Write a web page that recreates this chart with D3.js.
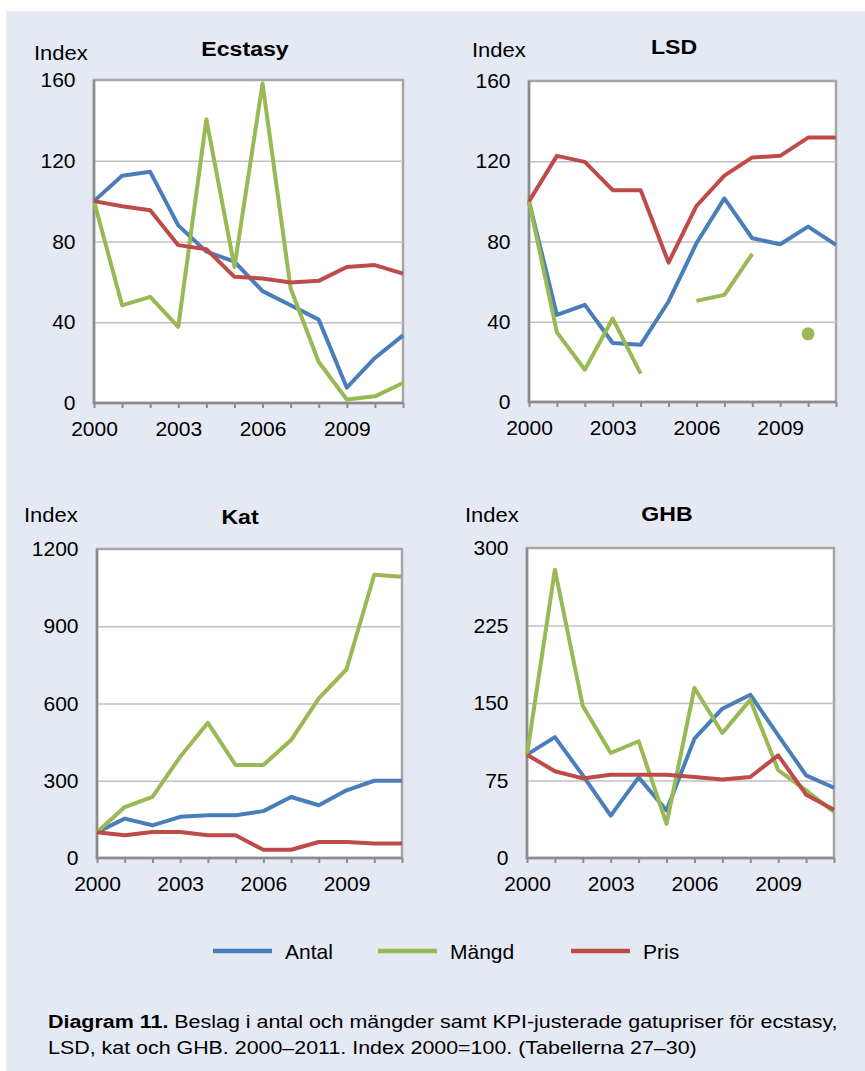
<!DOCTYPE html>
<html>
<head>
<meta charset="utf-8">
<script src="https://cdn.jsdelivr.net/npm/d3@7"></script>
<style>
  body { margin: 0; background: #fff; }
  text { font-family: Arial, "Liberation Sans", sans-serif; fill: #000; }
</style>
</head>
<body>
<div class="chart"></div>
<script>
// years on the x axis
const years = [2000, 2001, 2002, 2003, 2004, 2005, 2006, 2007, 2008, 2009, 2010, 2011];
const yearLabels = [2000, 2003, 2006, 2009];

// Ecstasy
const ecstasyAntal = [100, 112.6, 114.5, 88, 75, 70, 55.4, 48.4, 41.3, 7.6, 22.3, 33.5];
const ecstasyMangd = [100, 48.4, 52.6, 37.7, 140.5, 67.4, 158.3, 56.7, 20.3, 1.7, 3.3, 9.9];
const ecstasyPris  = [100, 97.5, 95.5, 78.2, 76.2, 62.5, 61.7, 59.7, 60.5, 67.4, 68.3, 64.1];
// LSD (null = missing)
const lsdAntal = [100, 43.4, 48.4, 29.4, 28.5, 50.1, 79.1, 101.5, 81.6, 78.6, 87.4, 78.3];
const lsdMangd = [100, 34.7, 16.1, 41.6, 14.1, null, 50.4, 53.4, 73.8, null, 34, null];
const lsdPris  = [100, 122.7, 119.7, 105.6, 105.6, 69.5, 97.7, 112.8, 121.9, 122.7, 131.8, 131.8];
// Kat
const katAntal = [100, 153, 127, 160, 166, 166, 182, 237, 205, 263, 300, 300];
const katMangd = [100, 198, 237, 393, 525, 361, 361, 458, 620, 733, 1100, 1092];
const katPris  = [100, 88, 101, 101, 88, 88, 32, 32, 62, 62, 56, 56];
// GHB
const ghbAntal = [100, 117, 80, 41, 78, 46, 115.5, 144.5, 158, 118.7, 80, 68];
const ghbMangd = [100, 279, 147, 101.6, 113, 33, 164.5, 121, 153, 85, 65.5, 44.5];
const ghbPris  = [100, 84, 77, 80.6, 80.6, 80.6, 78.4, 76, 78.4, 99.4, 61.3, 46.8];

// y ticks
const ticksEcstasy = [0, 40, 80, 120, 160];
const ticksLsd = [0, 40, 80, 120, 160];
const ticksKat = [0, 300, 600, 900, 1200];
const ticksGhb = [0, 75, 150, 225, 300];

const seriesNames = ["Antal", "Mängd", "Pris"];
const colors = ["#4a7ebb", "#98b954", "#be4b48"];

const W = 865, H = 1071;
const FONT = "Arial, 'Liberation Sans', sans-serif";

const svg = d3.select(".chart").append("svg")
  .attr("width", W).attr("height", H);

svg.append("rect")
  .attr("x", 6).attr("y", 11)
  .attr("width", W - 6).attr("height", H - 11)
  .attr("fill", "#e5e9f4");

// text with a horizontal stretch
function stext(parent, x, y, str, size, opts) {
  opts = opts || {};
  const g = parent.append("g")
    .attr("transform", `translate(${x},${y}) scale(${opts.sx || 1},1)`);
  return g.append("text")
    .attr("text-anchor", opts.anchor || "start")
    .attr("font-size", size)
    .attr("font-weight", opts.weight || "normal")
    .text(str);
}

const panels = [
  { title: "Ecstasy", series: [ecstasyAntal, ecstasyMangd, ecstasyPris], ticks: ticksEcstasy,
    box: [94, 80, 403, 403], titleX: 245, titleY: 56, indexX: 34, indexY: 60 },
  { title: "LSD", series: [lsdAntal, lsdMangd, lsdPris], ticks: ticksLsd,
    box: [529, 81, 836, 402], titleX: 674, titleY: 54, indexX: 472, indexY: 57 },
  { title: "Kat", series: [katAntal, katMangd, katPris], ticks: ticksKat,
    box: [97, 549, 402, 858], titleX: 240, titleY: 524, indexX: 24, indexY: 522 },
  { title: "GHB", series: [ghbAntal, ghbMangd, ghbPris], ticks: ticksGhb,
    box: [527, 548, 834, 858], titleX: 667, titleY: 521, indexX: 465, indexY: 522 }
];

panels.forEach(p => {
  const [x0, y0, x1, y1] = p.box;
  const x = d3.scalePoint().domain(years).range([x0, x1]);
  const y = d3.scaleLinear().domain([0, d3.max(p.ticks)]).range([y1, y0]);
  const g = svg.append("g");

  g.append("rect")
    .attr("x", x0).attr("y", y0)
    .attr("width", x1 - x0).attr("height", y1 - y0)
    .attr("fill", "#fff")
    .attr("stroke", "#a6a6a6")
    .attr("stroke-width", 2.5);

  // y axis + grid
  const ya = g.append("g")
    .attr("transform", `translate(${x0},0)`)
    .call(d3.axisLeft(y).tickValues(p.ticks).tickFormat(d3.format("d"))
      .tickSize(-(x1 - x0)).tickPadding(18.5));
  ya.select(".domain").remove();
  ya.selectAll(".tick line")
    .attr("stroke", "#c0c0c0").attr("stroke-width", 1.5)
    .filter(d => d === 0 || d === d3.max(p.ticks)).remove();
  ya.selectAll(".tick text")
    .attr("font-size", 21).attr("font-family", FONT).attr("fill", "#000");

  // x axis
  const xa = g.append("g")
    .attr("transform", `translate(0,${y1})`)
    .call(d3.axisBottom(x).tickValues(years).tickSize(5).tickPadding(13.5)
      .tickFormat(d => yearLabels.includes(d) ? d : ""));
  xa.select(".domain").attr("stroke", "#8c8c8c").attr("stroke-width", 2.5)
    .attr("d", `M${x0},0H${x1}`);
  xa.selectAll(".tick line").attr("stroke", "#8c8c8c").attr("stroke-width", 2);
  xa.selectAll(".tick text")
    .attr("font-size", 21).attr("font-family", FONT).attr("fill", "#000");

  // left axis line
  g.append("line")
    .attr("x1", x0).attr("x2", x0).attr("y1", y0).attr("y2", y1 + 1)
    .attr("stroke", "#8c8c8c").attr("stroke-width", 2.5);

  // series
  const line = d3.line()
    .defined(d => d != null)
    .x((d, i) => x(years[i]))
    .y(d => y(d));

  p.series.forEach((vals, si) => {
    g.append("path")
      .attr("d", line(vals))
      .attr("fill", "none")
      .attr("stroke", colors[si])
      .attr("stroke-width", 4)
      .attr("stroke-linejoin", "round");
    // isolated points show as dots
    const lonely = vals.map((v, i) => ({ v, i }))
      .filter(d => d.v != null && vals[d.i - 1] == null && vals[d.i + 1] == null && d.i > 0);
    g.selectAll(null).data(lonely).enter().append("circle")
      .attr("cx", d => x(years[d.i]))
      .attr("cy", d => y(d.v))
      .attr("r", 6.5)
      .attr("fill", colors[si]);
  });

  stext(svg, p.titleX, p.titleY, p.title, 21, { anchor: "middle", weight: "bold", sx: 1.1 });
  stext(svg, p.indexX, p.indexY, "Index", 20, { sx: 1.1 });
});

// legend
const legendX = [213, 378, 571];
const legendY = 951;
seriesNames.forEach((name, i) => {
  svg.append("line")
    .attr("x1", legendX[i]).attr("x2", legendX[i] + 59)
    .attr("y1", legendY).attr("y2", legendY)
    .attr("stroke", colors[i]).attr("stroke-width", 4.5);
  stext(svg, legendX[i] + 72, legendY + 7.5, name, 21, { sx: 1 });
});

// caption
function caption(y, bold, rest, width) {
  const g = svg.append("g").attr("transform", `translate(48,${y})`);
  const t = g.append("text").attr("font-size", 18.5);
  if (bold) t.append("tspan").attr("font-weight", "bold").text(bold);
  t.append("tspan").text(rest);
  const w = t.node().getComputedTextLength();
  t.attr("transform", `scale(${width / w},1)`);
}
caption(1028, "Diagram 11.", " Beslag i antal och mängder samt KPI-justerade gatupriser för ecstasy,", 790);
caption(1054, null, "LSD, kat och GHB. 2000–2011. Index 2000=100. (Tabellerna 27–30)", 649);
</script>
</body>
</html>
